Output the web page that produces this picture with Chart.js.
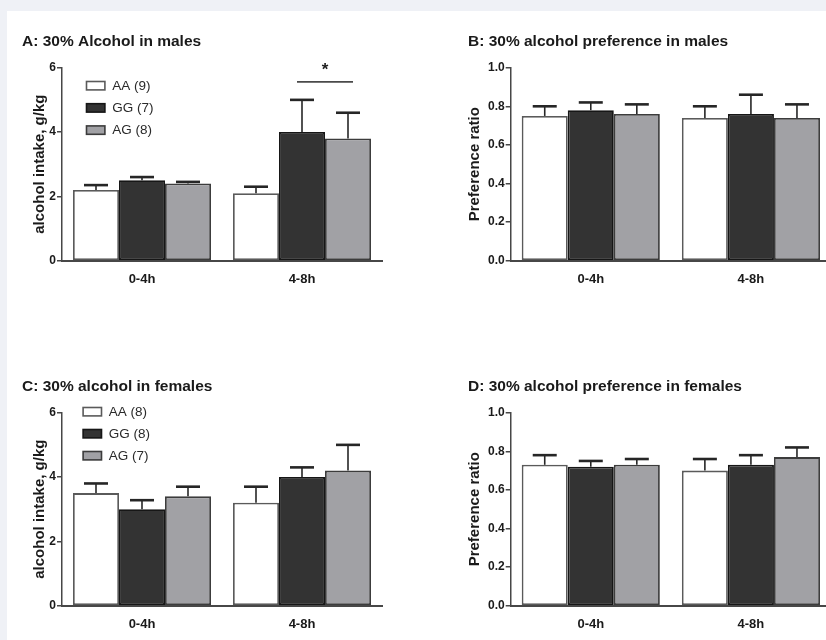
<!DOCTYPE html>
<html>
<head>
<meta charset="utf-8">
<script src="https://cdn.jsdelivr.net/npm/chart.js@4.4.1/dist/chart.umd.min.js"></script>
<style>
  html, body { margin: 0; padding: 0; width: 826px; height: 640px; overflow: hidden; background: #eff1f6; }
  #sheet { position: absolute; left: 7px; top: 11px; width: 819px; height: 629px; background: #ffffff; overflow: hidden; }
  canvas { position: absolute; }
</style>
</head>
<body>
<div id="sheet">
  <canvas id="panelA"></canvas>
  <canvas id="panelB"></canvas>
  <canvas id="panelC"></canvas>
  <canvas id="panelD"></canvas>
</div>
<script>
// Time windows
const timeBins = ['0-4h', '4-8h'];

// Group labels with n per genotype
const maleGroups = ['AA (9)', 'GG (7)', 'AG (8)'];
const femaleGroups = ['AA (8)', 'GG (8)', 'AG (7)'];

// A: alcohol intake in males (g/kg), mean and SEM
const maleIntakeAA = [2.2, 2.1];
const maleIntakeGG = [2.5, 4.0];
const maleIntakeAG = [2.4, 3.8];
const maleIntakeAAsem = [0.15, 0.2];
const maleIntakeGGsem = [0.1, 1.0];
const maleIntakeAGsem = [0.05, 0.8];

// B: alcohol preference ratio in males
const malePrefAA = [0.75, 0.74];
const malePrefGG = [0.78, 0.76];
const malePrefAG = [0.76, 0.74];
const malePrefAAsem = [0.05, 0.06];
const malePrefGGsem = [0.04, 0.10];
const malePrefAGsem = [0.05, 0.07];

// C: alcohol intake in females (g/kg)
const femaleIntakeAA = [3.5, 3.2];
const femaleIntakeGG = [3.0, 4.0];
const femaleIntakeAG = [3.4, 4.2];
const femaleIntakeAAsem = [0.3, 0.5];
const femaleIntakeGGsem = [0.28, 0.3];
const femaleIntakeAGsem = [0.3, 0.8];

// D: alcohol preference ratio in females
const femalePrefAA = [0.73, 0.70];
const femalePrefGG = [0.72, 0.73];
const femalePrefAG = [0.73, 0.77];
const femalePrefAAsem = [0.05, 0.06];
const femalePrefGGsem = [0.03, 0.05];
const femalePrefAGsem = [0.03, 0.05];

// Intake axis ticks and preference axis ticks
const intakeTicks = [0, 2, 4, 6];
const prefTicks = [0, 0.2, 0.4, 0.6, 0.8, 1.0];

Chart.defaults.font.family = '"Liberation Sans", Arial, Helvetica, sans-serif';
Chart.defaults.color = '#1e1e1e';
Chart.defaults.animation = false;

const FILLS = ['#ffffff', '#333333', '#a1a1a5'];
const EDGES = ['#5a5a5a', '#161616', '#3c3c3c'];

// Upward SEM whiskers with a flat cap
const errorBarPlugin = {
  id: 'errorBars',
  afterDatasetsDraw(chart) {
    const { ctx } = chart;
    const yScale = chart.scales.y;
    chart.data.datasets.forEach((ds, i) => {
      const meta = chart.getDatasetMeta(i);
      meta.data.forEach((bar, j) => {
        const top = yScale.getPixelForValue(ds.data[j] + ds.sem[j]);
        ctx.save();
        ctx.strokeStyle = '#262626';
        ctx.lineWidth = 1.6;
        ctx.beginPath();
        ctx.moveTo(bar.x, bar.y);
        ctx.lineTo(bar.x, top);
        ctx.stroke();
        ctx.lineWidth = 2.6;
        ctx.beginPath();
        ctx.moveTo(bar.x - 12, top);
        ctx.lineTo(bar.x + 12, top);
        ctx.stroke();
        ctx.restore();
      });
    });
  }
};

// Boxed legend drawn inside the plot area
const boxLegendPlugin = {
  id: 'boxLegend',
  afterDraw(chart, args, opts) {
    if (!opts || !opts.show) return;
    const { ctx, chartArea } = chart;
    chart.data.datasets.forEach((ds, i) => {
      const cy = chartArea.top + opts.dy + i * opts.gap;
      const bx = chartArea.left + opts.dx;
      ctx.save();
      ctx.fillStyle = ds.borderColor;
      ctx.fillRect(bx, cy - 5, 20, 10);
      ctx.fillStyle = ds.backgroundColor;
      ctx.fillRect(bx + 1.6, cy - 3.4, 16.8, 6.8);
      ctx.fillStyle = '#2a2a2a';
      ctx.font = '13.5px "Liberation Sans", Arial, sans-serif';
      ctx.textBaseline = 'middle';
      ctx.textAlign = 'left';
      ctx.fillText(ds.label, bx + 26.5, cy + 0.5);
      ctx.restore();
    });
  }
};

// Significance bracket between two bars of one time window
const sigPlugin = {
  id: 'sigMark',
  afterDraw(chart, args, opts) {
    if (!opts || !opts.show) return;
    const { ctx } = chart;
    const yScale = chart.scales.y;
    const a = chart.getDatasetMeta(opts.from).data[opts.bin];
    const b = chart.getDatasetMeta(opts.to).data[opts.bin];
    const y = yScale.getPixelForValue(opts.level);
    ctx.save();
    ctx.strokeStyle = '#4a4a4a';
    ctx.lineWidth = 1.8;
    ctx.beginPath();
    ctx.moveTo(a.x - 5, y);
    ctx.lineTo(b.x + 5, y);
    ctx.stroke();
    ctx.fillStyle = '#1e1e1e';
    ctx.font = 'bold 17px "Liberation Sans", Arial, sans-serif';
    ctx.textAlign = 'center';
    ctx.textBaseline = 'middle';
    ctx.fillText(opts.text, (a.x + b.x) / 2, yScale.getPixelForValue(opts.starLevel));
    ctx.restore();
  }
};

function makeDatasets(labels, means, sems) {
  return means.map((m, i) => ({
    label: labels[i],
    data: m,
    sem: sems[i],
    backgroundColor: FILLS[i],
    borderColor: EDGES[i],
    borderWidth: 1.8,
    borderSkipped: false,
    barPercentage: 1.0,
    categoryPercentage: 0.8625
  }));
}

function makePanel(id, box, spec) {
  const cv = document.getElementById(id);
  cv.style.left = box.left + 'px';
  cv.style.top = box.top + 'px';
  cv.width = box.width;
  cv.height = box.height;
  cv.style.width = box.width + 'px';
  cv.style.height = box.height + 'px';
  const tickVals = spec.ticks;
  return new Chart(cv, {
    type: 'bar',
    data: { labels: timeBins, datasets: makeDatasets(spec.labels, spec.means, spec.sems) },
    plugins: [errorBarPlugin, boxLegendPlugin, sigPlugin],
    options: {
      responsive: false,
      devicePixelRatio: 1,
      layout: { padding: box.padding },
      plugins: {
        legend: { display: false },
        tooltip: { enabled: false },
        title: {
          display: true,
          text: spec.title,
          align: 'start',
          color: '#1a1a1a',
          font: { size: 15.5, weight: 'bold' },
          padding: { top: 0, bottom: 17.1 }
        },
        boxLegend: spec.legend || { show: false },
        sigMark: spec.sig || { show: false }
      },
      scales: {
        x: {
          grid: { display: false, drawTicks: false },
          border: { display: true, color: '#474747', width: 2 },
          ticks: { padding: 11, color: '#1a1a1a', font: { size: 13, weight: 'bold' } },
          afterFit(scale) { scale.height = 30; }
        },
        y: {
          min: tickVals[0],
          max: tickVals[tickVals.length - 1],
          afterBuildTicks(scale) { scale.ticks = tickVals.map(v => ({ value: v })); },
          grid: { display: true, drawOnChartArea: false, drawTicks: true, tickLength: 5, color: '#474747', lineWidth: 1.5 },
          border: { display: true, color: '#474747', width: 1.5 },
          ticks: {
            padding: 1,
            color: '#1a1a1a',
            font: { size: 12, weight: 'bold' },
            callback: spec.fmt
          },
          title: {
            display: true,
            text: spec.yTitle,
            color: '#1a1a1a',
            font: { size: 15, weight: 'bold' },
            padding: { top: spec.yTitlePad, bottom: 0 }
          },
          afterFit(scale) { scale.width = box.axisWidth; }
        }
      }
    }
  });
}

const intFmt = v => String(v);
const decFmt = v => Number(v).toFixed(1);

// Left column: intake panels; right column: preference panels
makePanel('panelA', { left: 0, top: 0, width: 406, height: 300, axisWidth: 40,
  padding: { left: 15, right: 31, top: 21, bottom: 20.3 } }, {
  title: 'A: 30% Alcohol in males',
  yTitle: 'alcohol intake, g/kg', yTitlePad: 9,
  labels: maleGroups,
  means: [maleIntakeAA, maleIntakeGG, maleIntakeAG],
  sems: [maleIntakeAAsem, maleIntakeGGsem, maleIntakeAGsem],
  ticks: intakeTicks, fmt: intFmt,
  legend: { show: true, dx: 23.7, dy: 18, gap: 22.2 },
  sig: { show: true, bin: 1, from: 1, to: 2, level: 5.56, starLevel: 5.92, text: '*' }
});

makePanel('panelB', { left: 413, top: 0, width: 420, height: 300, axisWidth: 42.7,
  padding: { left: 48, right: 9, top: 21, bottom: 20.3 } }, {
  title: 'B: 30% alcohol preference in males',
  yTitle: 'Preference ratio', yTitlePad: -2,
  labels: maleGroups,
  means: [malePrefAA, malePrefGG, malePrefAG],
  sems: [malePrefAAsem, malePrefGGsem, malePrefAGsem],
  ticks: prefTicks, fmt: decFmt
});

makePanel('panelC', { left: 0, top: 345, width: 406, height: 300, axisWidth: 40,
  padding: { left: 15, right: 31, top: 21, bottom: 20.3 } }, {
  title: 'C: 30% alcohol in females',
  yTitle: 'alcohol intake, g/kg', yTitlePad: 9,
  labels: femaleGroups,
  means: [femaleIntakeAA, femaleIntakeGG, femaleIntakeAG],
  sems: [femaleIntakeAAsem, femaleIntakeGGsem, femaleIntakeAGsem],
  ticks: intakeTicks, fmt: intFmt,
  legend: { show: true, dx: 20.3, dy: -1, gap: 22 }
});

makePanel('panelD', { left: 413, top: 345, width: 420, height: 300, axisWidth: 42.7,
  padding: { left: 48, right: 9, top: 21, bottom: 20.3 } }, {
  title: 'D: 30% alcohol preference in females',
  yTitle: 'Preference ratio', yTitlePad: -2,
  labels: femaleGroups,
  means: [femalePrefAA, femalePrefGG, femalePrefAG],
  sems: [femalePrefAAsem, femalePrefGGsem, femalePrefAGsem],
  ticks: prefTicks, fmt: decFmt
});
</script>
</body>
</html>
